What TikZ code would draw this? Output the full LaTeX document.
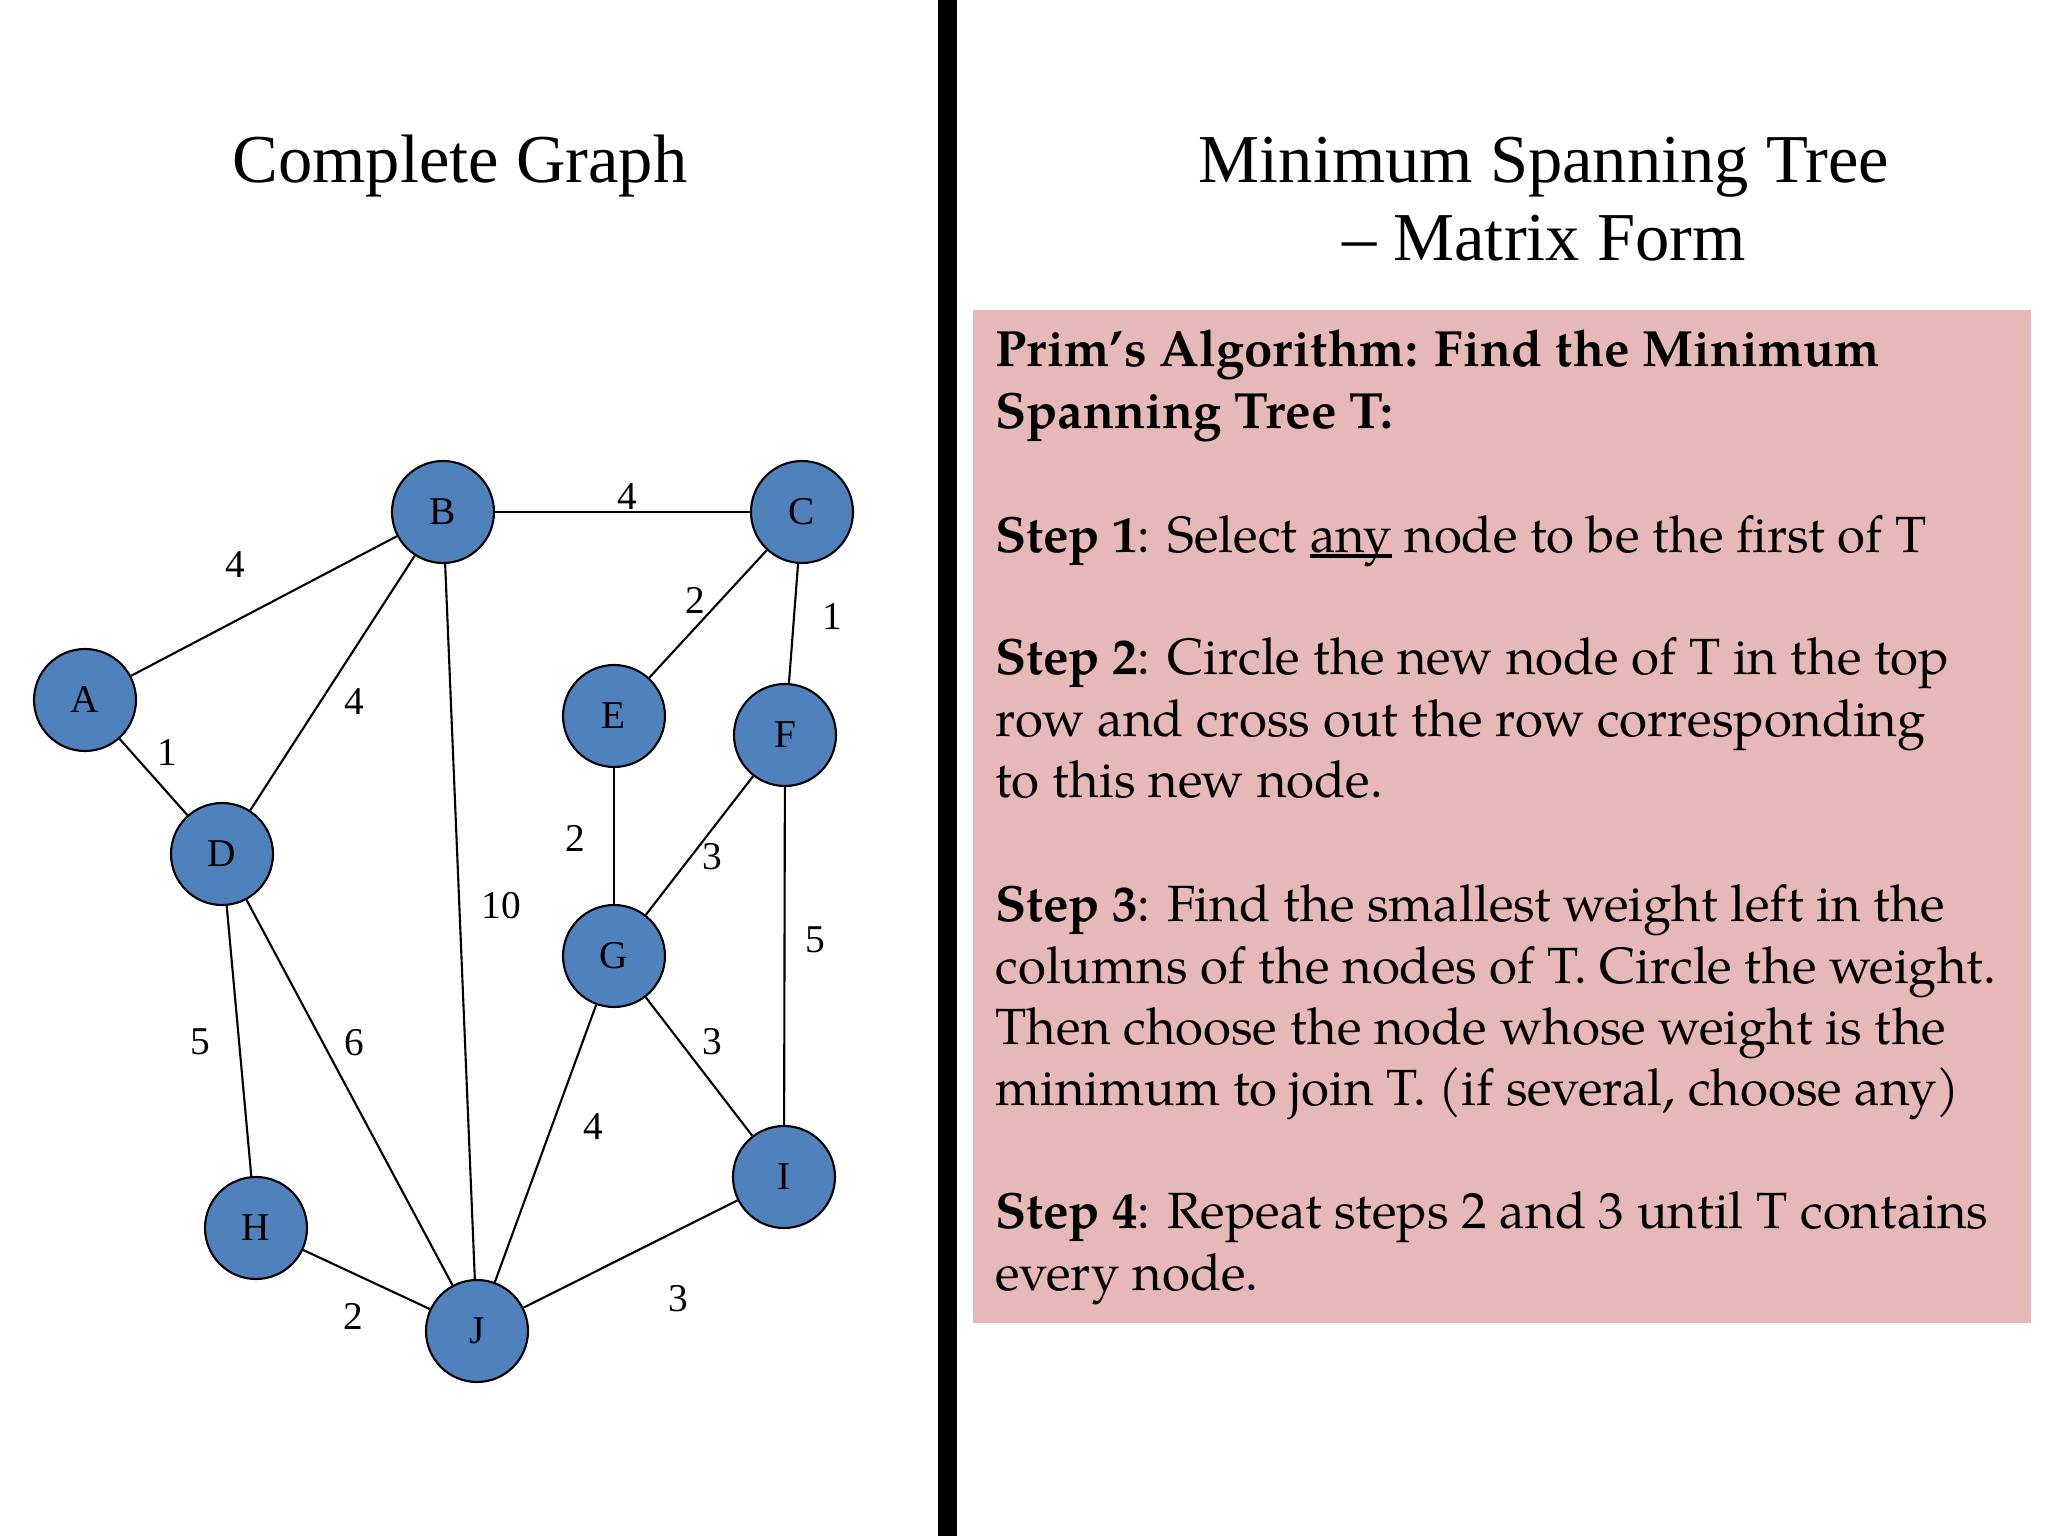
\documentclass[tikz,border=0pt]{standalone}
\usepackage{fontspec}
\setmainfont{Liberation Serif}
\newfontfamily\pal{texgyrepagella}[Extension=.otf, UprightFont=*-regular, BoldFont=*-bold, ItalicFont=*-italic, BoldItalicFont=*-bolditalic]
\definecolor{nodeblue}{HTML}{4F81BD}
\definecolor{boxpink}{HTML}{E6B8B7}
\newcommand{\myul}[1]{\setbox0=\hbox{#1}\rlap{\rule[-0.11em]{\wd0}{0.07em}}\box0\relax}
\tikzset{
  vertex/.style={circle, draw=black, line width=0.6pt, fill=nodeblue, minimum size=1.02cm, inner sep=0pt, font=\fontsize{11.2}{13}\selectfont},
  edge/.style={draw=black, line width=0.6pt},
  wlabel/.style={inner sep=0pt, font=\fontsize{11.2}{13}\selectfont},
  title/.style={inner sep=0pt, anchor=base, font=\fontsize{19.5}{23}\selectfont},
  boxline/.style={inner sep=0pt, anchor=base west, font=\pal\fontsize{14.5}{17}\selectfont}
}
\begin{document}
\begin{tikzpicture}[x=1cm,y=-1cm]
\useasboundingbox[fill=white] (0,0) rectangle (20.48,15.36);
% divider
\fill[black] (9.38,0) rectangle (9.57,15.36);
% titles
\node[title] (t1) at (4.60,1.83) {Complete Graph};
\node[title] (t2) at (15.44,1.83) {Minimum Spanning Tree};
\node[title] (t3) at (15.44,2.61) {-- Matrix Form};
% nodes
\node[vertex] (A) at (0.85,7.00) {A};
\node[vertex] (B) at (4.43,5.12) {B};
\node[vertex] (C) at (8.02,5.12) {C};
\node[vertex] (D) at (2.22,8.54) {D};
\node[vertex] (E) at (6.14,7.16) {E};
\node[vertex] (F) at (7.85,7.35) {F};
\node[vertex] (G) at (6.14,9.56) {G};
\node[vertex] (H) at (2.56,12.28) {H};
\node[vertex] (I) at (7.84,11.77) {I};
\node[vertex] (J) at (4.77,13.31) {J};
% edges
\draw[edge] (A) -- (B);
\draw[edge] (A) -- (D);
\draw[edge] (B) -- (D);
\draw[edge] (B) -- (C);
\draw[edge] (B) -- (J);
\draw[edge] (C) -- (E);
\draw[edge] (C) -- (F);
\draw[edge] (E) -- (G);
\draw[edge] (F) -- (G);
\draw[edge] (F) -- (I);
\draw[edge] (D) -- (H);
\draw[edge] (D) -- (J);
\draw[edge] (G) -- (I);
\draw[edge] (G) -- (J);
\draw[edge] (H) -- (J);
\draw[edge] (J) -- (I);
% weights
\node[wlabel] (wAB) at (2.35,5.65) {4};
\node[wlabel] (wAD) at (1.67,7.53) {1};
\node[wlabel] (wBD) at (3.54,7.02) {4};
\node[wlabel] (wBC) at (6.27,4.97) {4};
\node[wlabel] (wCE) at (6.95,6.00) {2};
\node[wlabel] (wCF) at (8.32,6.17) {1};
\node[wlabel] (wEG) at (5.75,8.38) {2};
\node[wlabel] (wFG) at (7.12,8.57) {3};
\node[wlabel] (wBJ) at (5.01,9.06) {10};
\node[wlabel] (wFI) at (8.15,9.40) {5};
\node[wlabel] (wDH) at (2.00,10.42) {5};
\node[wlabel] (wDJ) at (3.54,10.43) {6};
\node[wlabel] (wGI) at (7.12,10.42) {3};
\node[wlabel] (wGJ) at (5.93,11.27) {4};
\node[wlabel] (wHJ) at (3.53,13.16) {2};
\node[wlabel] (wJI) at (6.78,12.99) {3};
% pink box
\fill[boxpink] (9.73,3.10) rectangle (20.31,13.23);
\node[boxline] (p1) at (9.95,3.67) {\bfseries Prim’s Algorithm: Find the Minimum};
\node[boxline] (p2) at (9.95,4.29) {\bfseries Spanning Tree T:};
\node[boxline] (s1) at (9.95,5.52) {\textbf{Step 1}: Select \myul{any} node to be the first of T};
\node[boxline] (s2a) at (9.95,6.75) {\textbf{Step 2}: Circle the new node of T in the top};
\node[boxline] (s2b) at (9.95,7.37) {row and cross out the row corresponding};
\node[boxline] (s2c) at (9.95,7.98) {to this new node.};
\node[boxline] (s3a) at (9.95,9.21) {\textbf{Step 3}: Find the smallest weight left in the};
\node[boxline] (s3b) at (9.95,9.83) {columns of the nodes of T. Circle the weight.};
\node[boxline] (s3c) at (9.95,10.44) {Then choose the node whose weight is the};
\node[boxline] (s3d) at (9.95,11.05) {minimum to join T. (if several, choose any)};
\node[boxline] (s4a) at (9.95,12.28) {\textbf{Step 4}: Repeat steps 2 and 3 until T contains};
\node[boxline] (s4b) at (9.95,12.90) {every node.};
\end{tikzpicture}
\end{document}
